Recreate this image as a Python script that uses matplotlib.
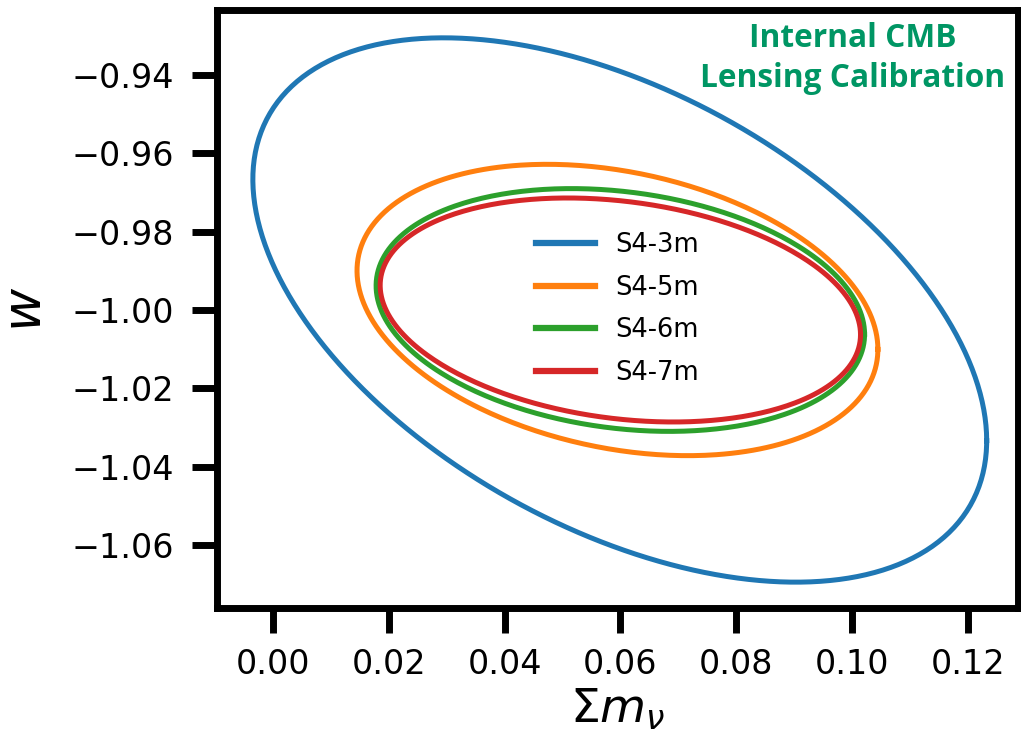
import numpy as np
import matplotlib
matplotlib.use("Agg")
import matplotlib.pyplot as plt

# forecast contours (sum m_nu vs w)
labels = ["S4-3m", "S4-5m", "S4-6m", "S4-7m"]
colors = ["#1f77b4", "#ff7f0e", "#2ca02c", "#d62728"]
center_mnu = [0.0599, 0.0595, 0.0600, 0.0600]
center_w = [-1.0000, -1.0000, -1.0000, -1.0000]
half_mnu = [0.0634, 0.0450, 0.0422, 0.0415]   # half extent along x
half_w = [0.0695, 0.0372, 0.0310, 0.0286]     # half extent along y
rho = [-0.48, -0.27, -0.20, -0.22]            # correlation

xticks = [0.00, 0.02, 0.04, 0.06, 0.08, 0.10, 0.12]
yticks = [-0.94, -0.96, -0.98, -1.00, -1.02, -1.04, -1.06]

fig = plt.figure(figsize=(10.21, 7.42), dpi=100)
ax = fig.add_axes([0.2125, 0.1806, 0.7845, 0.8059])

t = np.linspace(0, 2*np.pi, 400)
for i in range(len(labels)):
    # correlated ellipse: x = a cos t, y = b (rho cos t + sqrt(1-rho^2) sin t)
    xs = center_mnu[i] + half_mnu[i]*np.cos(t)
    ys = center_w[i] + half_w[i]*(rho[i]*np.cos(t) + np.sqrt(1 - rho[i]**2)*np.sin(t))
    ax.plot(xs, ys, color=colors[i], lw=3.6, label=labels[i])

ax.set_xlim(-0.0097, 0.1287)
ax.set_ylim(-1.0761, -0.9234)
ax.set_xticks(xticks)
ax.set_yticks(yticks)
ax.set_xticklabels(["%.2f" % v for v in xticks])
ax.set_yticklabels([("%.2f" % v).replace("-", "\u2212") for v in yticks])
ax.tick_params(labelsize=24, length=18, width=5)
ax.tick_params(axis="x", pad=11)
ax.tick_params(axis="y", pad=13)
for s in ax.spines.values():
    s.set_linewidth(5)

ax.set_xlabel(r"$\Sigma m_\nu$", fontsize=34, labelpad=4)
ax.set_ylabel(r"$w$", fontsize=38, labelpad=14)

leg = ax.legend(loc="center", bbox_to_anchor=(0.5, 0.5), frameon=False,
                fontsize=18.5, handlelength=2.3, handletextpad=0.8,
                labelspacing=0.65)
for l in leg.get_lines():
    l.set_linewidth(4.5)

ax.text(0.794, 0.98, "Internal CMB\nLensing Calibration", transform=ax.transAxes,
        ha="center", va="top", fontsize=22.8, fontweight="bold",
        family="Open Sans", color="#009664", linespacing=1.3)

fig.savefig("out.png", dpi=100)
